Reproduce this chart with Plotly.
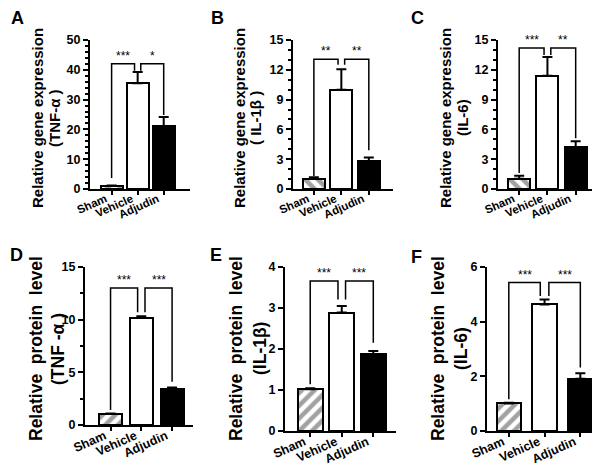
import plotly.graph_objects as go

groups = ["Sham", "Vehicle", "Adjudin"]
panel_letters = ["A", "B", "C", "D", "E", "F"]

# values (mean, upper SEM)
tnf_gene = [1.0, 35.5, 21.0]
tnf_gene_err = [0.15, 3.8, 3.2]
il1b_gene = [1.05, 10.0, 2.8]
il1b_gene_err = [0.13, 2.05, 0.38]
il6_gene = [1.03, 11.4, 4.2]
il6_gene_err = [0.3, 1.9, 0.6]
tnf_prot = [1.05, 10.17, 3.45]
tnf_prot_err = [0.05, 0.15, 0.12]
il1b_prot = [1.02, 2.89, 1.87]
il1b_prot_err = [0.02, 0.16, 0.08]
il6_prot = [1.01, 4.63, 1.91]
il6_prot_err = [0.02, 0.18, 0.2]

# significance brackets: height, leg ends (sham, vehicle, adjudin), stars
bracket_height = [42, 13.05, 14.2, 13.0, 3.66, 5.43]
bracket_legs = [
    [3.7, 39.7, 24.8],
    [1.3, 12.5, 3.9],
    [1.6, 13.5, 5.1],
    [1.43, 10.7, 4.1],
    [1.14, 3.21, 2.15],
    [1.16, 4.94, 2.32],
]
stars = [["***", "*"], ["**", "**"], ["***", "**"], ["***", "***"], ["***", "***"], ["***", "***"]]

# y axes: max, major step, minor step
y_max = [50, 15, 15, 15, 4, 6]
y_step = [10, 3, 3, 5, 1, 2]
y_minor = [2, 1, 1, 2.5, None, None]

gene_title = "Relative gene expression"
prot_title = "Relative\u00a0 protein\u00a0 level"
y_title_1 = [gene_title, gene_title, gene_title, prot_title, prot_title, prot_title]
y_title_2 = ["(TNF-α )", "( IL-1β )", "(IL-6)", "(TNF -α )", "(IL-1β)", "(IL-6)"]
values = [tnf_gene, il1b_gene, il6_gene, tnf_prot, il1b_prot, il6_prot]
errors = [tnf_gene_err, il1b_gene_err, il6_gene_err, tnf_prot_err, il1b_prot_err, il6_prot_err]

W, H = 600, 471
# layout in pixels: (x_left, x_right, y_top, y_bottom)
boxes = [
    (82, 182, 32, 181), (285, 385, 32, 181), (490, 590, 32, 181),
    (77, 185, 259, 417), (277, 388, 259, 423), (479, 592, 259, 423),
]
xranges = [(-0.83, 3.01), (-0.76, 2.88), (-0.75, 2.79), (-0.83, 2.68), (-0.8, 2.72), (-0.61, 2.55)]
bar_widths = [0.85, 0.8, 0.78, 0.75, 0.78, 0.68]
hatch = ["/", "\\", "\\", "/", "/", "/"]
# title line x positions (px) and vertical center
title_x = [(30, 47), (232, 248), (438, 455), (28, 50), (228, 252), (430, 453)]
title_y = [110, 110, 110, 341, 341, 341]
title_size = [15, 15, 15, 17.5, 17.5, 17.5]
letter_pos = [(9, 10), (209, 10), (409, 10), (8, 247), (208, 247), (408, 249)]
xtick_size = [11.5, 11.5, 11.5, 12.5, 12.5, 12.5]

FONT = "Liberation Sans, Arial, sans-serif"
fig = go.Figure()
shapes = []
annotations = []
layout = {}
d = 0.12
for i in range(6):
    n = i + 1
    xa = "x" if n == 1 else f"x{n}"
    ya = "y" if n == 1 else f"y{n}"
    x0, x1, yt, yb = boxes[i]
    fig.add_trace(go.Bar(
        x=[0, 1, 2], y=values[i], width=bar_widths[i],
        xaxis=xa, yaxis=ya, showlegend=False,
        marker=dict(
            color=["white", "white", "black"],
            line=dict(color="black", width=2),
            pattern=dict(shape=[hatch[i], "", ""], fillmode="overlay",
                         fgcolor="black", bgcolor="white", size=9, solidity=0.5),
        ),
        error_y=dict(type="data", symmetric=False, array=errors[i], arrayminus=[0, 0, 0],
                     color="black", thickness=2, width=5),
    ))
    xkey = "xaxis" if n == 1 else f"xaxis{n}"
    ykey = "yaxis" if n == 1 else f"yaxis{n}"
    layout[xkey] = dict(
        domain=[x0 / W, x1 / W], anchor=ya, range=list(xranges[i]), automargin=False,
        tickvals=[0, 1, 2], ticktext=groups, tickangle=-24,
        ticklabelstandoff=-7, ticklabelshift=-6,
        showline=True, linewidth=2, linecolor="black", ticks="outside", ticklen=4,
        tickwidth=2, tickcolor="black", showgrid=False, zeroline=False,
        tickfont=dict(family=FONT, size=xtick_size[i], color="black", weight="bold"),
    )
    yd = dict(
        domain=[1 - yb / H, 1 - yt / H], anchor=xa, range=[0, y_max[i]], automargin=False,
        tick0=0, dtick=y_step[i], showline=True, linewidth=2, linecolor="black",
        ticks="outside", ticklen=5, tickwidth=2, tickcolor="black",
        showgrid=False, zeroline=False,
        tickfont=dict(family=FONT, size=12.5, color="black", weight="bold"),
    )
    if y_minor[i]:
        yd["minor"] = dict(dtick=y_minor[i], tick0=0, ticks="outside", ticklen=3,
                           tickwidth=1.5, tickcolor="black", showgrid=False)
    layout[ykey] = yd

    h = bracket_height[i]
    legs = bracket_legs[i]
    for (xa0, xa1, l0, l1, s) in [(0, 1 - d, legs[0], legs[1], stars[i][0]),
                                  (1 + d, 2, legs[1], legs[2], stars[i][1])]:
        shapes.append(dict(type="path", xref=xa, yref=ya,
                           path=f"M {xa0},{l0} L {xa0},{h} L {xa1},{h} L {xa1},{l1}",
                           line=dict(color="black", width=1.5)))
        annotations.append(dict(x=(xa0 + xa1) / 2, y=h, xref=xa, yref=ya, text=s,
                                showarrow=False, yanchor="bottom", yshift=-1,
                                font=dict(family=FONT, size=12, color="black")))
    for line_txt, lxp in zip([y_title_1[i], y_title_2[i]], title_x[i]):
        annotations.append(dict(x=lxp / W, y=1 - title_y[i] / H, xref="paper", yref="paper",
                                text=line_txt, textangle=-90, showarrow=False,
                                xanchor="center", yanchor="middle",
                                font=dict(family=FONT, size=title_size[i], color="black",
                                          weight="bold")))
    lx, ly = letter_pos[i]
    annotations.append(dict(x=lx / W, y=1 - ly / H, xref="paper", yref="paper",
                            text=panel_letters[i], showarrow=False,
                            xanchor="center", yanchor="middle",
                            font=dict(family=FONT, size=18, color="black", weight="bold")))

fig.update_layout(
    template="none",
    width=W, height=H, margin=dict(l=0, r=0, t=0, b=0),
    plot_bgcolor="white", paper_bgcolor="white",
    shapes=shapes, annotations=annotations, bargap=0,
    **layout,
)
fig.write_html("out.html")
